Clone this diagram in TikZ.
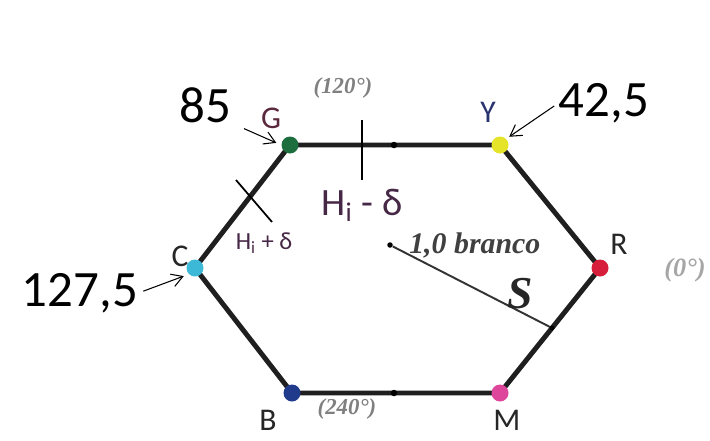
\documentclass[tikz,border=0pt]{standalone}
\usepackage{fontspec}
\setmainfont{Carlito}
\newfontfamily\angfont{Liberation Serif}
\usetikzlibrary{arrows.meta, positioning, backgrounds}

\definecolor{gcol}{RGB}{28,110,62}
\definecolor{ycol}{RGB}{230,228,40}
\definecolor{rcol}{RGB}{214,30,60}
\definecolor{mcol}{RGB}{222,70,155}
\definecolor{bcol}{RGB}{32,58,140}
\definecolor{ccol}{RGB}{60,185,215}
\definecolor{gtxt}{RGB}{90,40,60}
\definecolor{ytxt}{RGB}{40,50,110}
\definecolor{htxt}{RGB}{70,40,70}

\begin{document}
\begin{tikzpicture}[
  x=0.02cm, y=-0.02cm,
  vdot/.style={circle, inner sep=0pt, minimum size=0.34cm},
  mdot/.style={circle, fill=black, inner sep=0pt, minimum size=0.13cm},
  vlbl/.style={font=\fontsize{18}{18}\selectfont, inner sep=0pt, text=black!85},
  val/.style={font=\fontsize{29}{29}\selectfont, inner sep=0pt},
  ang/.style={font=\angfont\bfseries\itshape\fontsize{13}{13}\selectfont, text=black!50, inner sep=0pt},
  hexline/.style={line width=2.8pt, black!88, line join=round},
  tickline/.style={line width=1pt},
  ptr/.style={-{Straight Barb[length=2.2mm, width=2.6mm]}, line width=0.6pt},
]
  \useasboundingbox (0,0) rectangle (710,440);

  % colour points of the hexagon
  \node[vdot, fill=gcol] (G) at (290,145) {};
  \node[vdot, fill=ycol] (Y) at (500,145) {};
  \node[vdot, fill=rcol] (R) at (600,268) {};
  \node[vdot, fill=mcol] (M) at (500,393) {};
  \node[vdot, fill=bcol] (B) at (292,393) {};
  \node[vdot, fill=ccol] (C) at (195,268) {};

  \begin{scope}[on background layer]
    \draw[hexline] (G.center) -- (Y.center) -- (R.center) -- (M.center) -- (B.center) -- (C.center) -- cycle;
  \end{scope}

  \node[mdot] (gy) at (394,145) {};
  \node[mdot] (bm) at (394,393) {};

  \node[vlbl, text=gtxt] (Glbl) at (271,118) {G};
  \node[vlbl, text=ytxt] (Ylbl) at (488,112) {Y};
  \node[vlbl] (Rlbl) at (619,244) {R};
  \node[vlbl] (Clbl) at (180,256) {C};
  \node[vlbl] (Blbl) at (268,420) {B};
  \node[vlbl] (Mlbl) at (507,420) {M};

  % hue limits
  \coordinate (t1a) at (362,120);
  \coordinate (t1b) at (362,180);
  \draw[tickline] (t1a) -- (t1b);
  \node[font=\fontsize{22}{22}\selectfont, text=htxt, inner sep=0pt, below=5pt of t1b] (hminus) {H\textsubscript{i} - δ};

  \coordinate (t2a) at (236,180);
  \coordinate (t2b) at (272,222);
  \draw[tickline] (t2a) -- (t2b);
  \node[font=\fontsize{14}{14}\selectfont, text=htxt, inner sep=0pt] (hplus) at (264,243) {H\textsubscript{i} + δ};

  % white point and saturation
  \node[mdot, minimum size=0.11cm] (W) at (390,245) {};
  \node[font=\angfont\bfseries\itshape\fontsize{17}{17}\selectfont, text=black!75, inner sep=0pt, right=9pt of W] (wlbl) {1,0 branco};
  \coordinate (Sf) at (552,328);
  \draw[line width=1.1pt, black!80] (W) -- node[pos=0.8, above, inner sep=1pt, font=\angfont\bfseries\itshape\fontsize{26}{26}\selectfont, text=black!85] (S) {S} (Sf);
  \node[mdot, minimum size=0.1cm] (Sdot) at (Sf) {};

  \node[ang] (a120) at (343,88) {(120°)};
  \node[ang] (a240) at (347,409) {(240°)};
  \node[ang, font=\angfont\bfseries\itshape\fontsize{15}{15}\selectfont, text=black!35] (a0) at (685,270) {(0°)};

  % hue values
  \node[val] (n85) at (205,105) {85};
  \node[val] (n425) at (604,103) {42,5};
  \node[val] (n1275) at (80,293) {127,5};

  \draw[ptr, shorten <=8pt, shorten >=3pt] (n85.south east) -- (G.west);
  \draw[ptr, shorten <=3pt, shorten >=2pt] (n425.west) -- (Y.north east);
  \draw[ptr, shorten <=3pt, shorten >=3pt] (n1275.east) -- (C.south west);
\end{tikzpicture}
\end{document}
